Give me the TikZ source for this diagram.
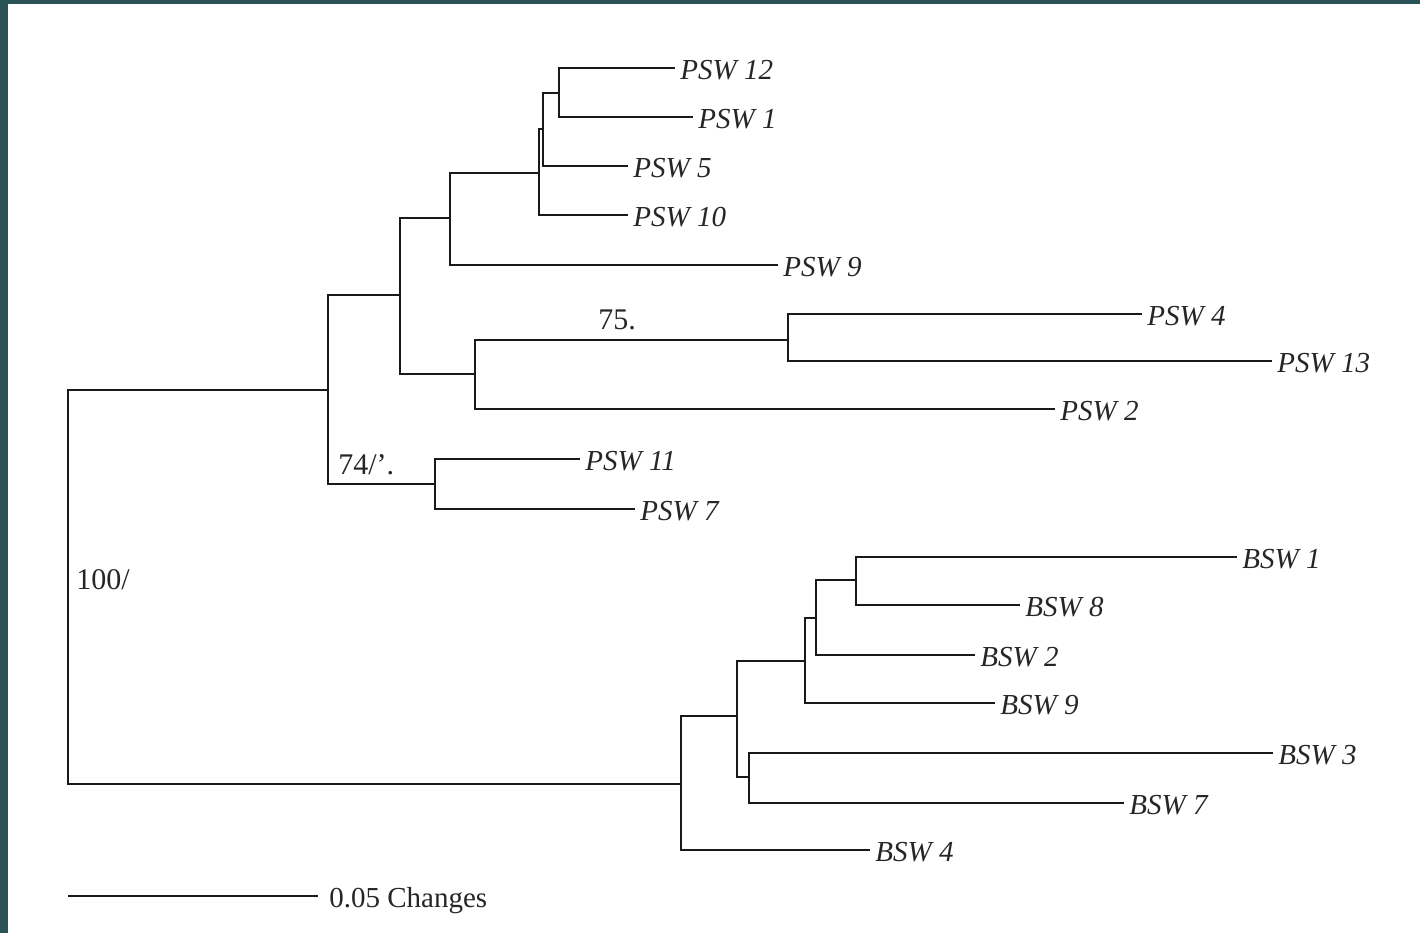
\documentclass[tikz,border=0pt]{standalone}
\usepackage{fontspec}
\setmainfont{Liberation Serif}
\definecolor{frame}{HTML}{2A5358}
\definecolor{ink}{HTML}{262626}
\begin{document}
\begin{tikzpicture}[x=0.5pt,y=-0.5pt,
  branch/.style={line width=1.45pt,draw=black!90},
  leaf/.style={anchor=west,inner sep=2.5pt,text height=11.6pt,text depth=0pt,text=ink,font=\fontsize{14.5}{17}\itshape\selectfont},
  support/.style={anchor=west,inner sep=0pt,text=ink,font=\fontsize{15}{17}\selectfont},
  scalelbl/.style={anchor=west,inner xsep=5.5pt,inner ysep=2pt,text height=11.6pt,text depth=0pt,text=ink,font=\fontsize{14.5}{17}\selectfont}]
\useasboundingbox (0,0) rectangle (1420,933);
\fill[white] (0,0) rectangle (1420,933);
\fill[frame] (0,0) rectangle (8,933);
\fill[frame] (0,0) rectangle (1420,4);
% internal nodes
\coordinate (r) at (68,587);
\coordinate (A) at (328,390);
\coordinate (B) at (400,295);
\coordinate (C) at (450,218);
\coordinate (D) at (539,173);
\coordinate (E) at (543,129);
\coordinate (F) at (559,93);
\coordinate (G) at (475,374);
\coordinate (H) at (788,340);
\coordinate (I) at (435,484);
\coordinate (J) at (681,784);
\coordinate (K) at (737,716);
\coordinate (L) at (805,661);
\coordinate (M) at (816,618);
\coordinate (N) at (856,580);
\coordinate (O) at (749,777);
% leaves
\node[leaf] (psw12) at (675,68) {PSW 12};
\node[leaf] (psw1) at (693,117) {PSW 1};
\node[leaf] (psw5) at (628,166) {PSW 5};
\node[leaf] (psw10) at (628,215) {PSW 10};
\node[leaf] (psw9) at (778,265) {PSW 9};
\node[leaf] (psw4) at (1142,314) {PSW 4};
\node[leaf] (psw13) at (1272,361) {PSW 13};
\node[leaf] (psw2) at (1055,409) {PSW 2};
\node[leaf] (psw11) at (580,459) {PSW 11};
\node[leaf] (psw7) at (635,509) {PSW 7};
\node[leaf] (bsw1) at (1237,557) {BSW 1};
\node[leaf] (bsw8) at (1020,605) {BSW 8};
\node[leaf] (bsw2) at (975,655) {BSW 2};
\node[leaf] (bsw9) at (995,703) {BSW 9};
\node[leaf] (bsw3) at (1273,753) {BSW 3};
\node[leaf] (bsw7) at (1124,803) {BSW 7};
\node[leaf] (bsw4) at (870,850) {BSW 4};
% branches
\draw[branch] (r) |- (A);
\draw[branch] (r) |- (J);
\draw[branch] (A) |- (B);
\draw[branch] (A) |- (I);
\draw[branch] (B) |- (C);
\draw[branch] (B) |- (G);
\draw[branch] (C) |- (D);
\draw[branch] (C) |- (psw9.west);
\draw[branch] (D) |- (E);
\draw[branch] (D) |- (psw10.west);
\draw[branch] (E) |- (F);
\draw[branch] (E) |- (psw5.west);
\draw[branch] (F) |- (psw12.west);
\draw[branch] (F) |- (psw1.west);
\draw[branch] (G) |- (H);
\draw[branch] (G) |- (psw2.west);
\draw[branch] (H) |- (psw4.west);
\draw[branch] (H) |- (psw13.west);
\draw[branch] (I) |- (psw11.west);
\draw[branch] (I) |- (psw7.west);
\draw[branch] (J) |- (K);
\draw[branch] (J) |- (bsw4.west);
\draw[branch] (K) |- (L);
\draw[branch] (K) |- (O);
\draw[branch] (L) |- (M);
\draw[branch] (L) |- (bsw9.west);
\draw[branch] (M) |- (N);
\draw[branch] (M) |- (bsw2.west);
\draw[branch] (N) |- (bsw1.west);
\draw[branch] (N) |- (bsw8.west);
\draw[branch] (O) |- (bsw3.west);
\draw[branch] (O) |- (bsw7.west);
% support values
\node[support] (s75) at (598,320) {75.};
\node[support] (s74) at (338,465) {74/'.};
\node[support] (s100) at (76,580) {100/};
% scale bar
\coordinate (sb0) at (68,896);
\node[scalelbl] (sbl) at (318,896) {0.05 Changes};
\draw[branch] (sb0) -- (sbl.west);
\end{tikzpicture}
\end{document}
